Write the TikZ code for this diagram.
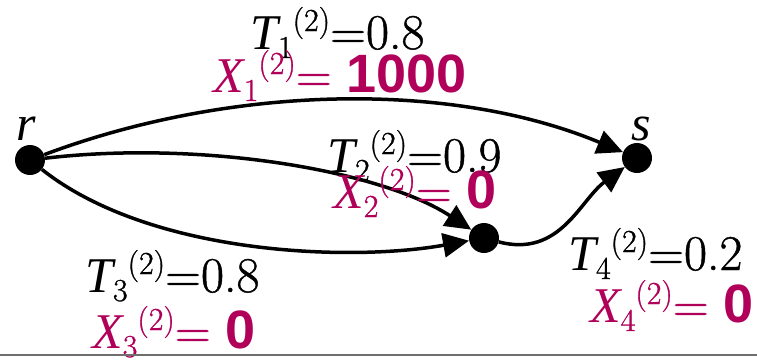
\documentclass[tikz,border=0pt]{standalone}
\usepackage{fontspec}
\setsansfont{Liberation Sans}
\newfontfamily\tmsit[UprightFont=*-Italic]{LiberationSerif}
\newfontfamily\up[RawFeature={embolden=0.9}]{Latin Modern Roman}
\usetikzlibrary{arrows.meta}
\definecolor{mag}{RGB}{176,0,90}
\definecolor{rule}{RGB}{110,110,110}
\newcommand\scr[1]{{\fontsize{32}{32}\selectfont\up #1}}
\newcommand\vlab[2]{{\tmsit #1}\raisebox{-9pt}{\scr{#2}}\raisebox{18pt}{\scr{(2)}}}
\newcommand\bnum[1]{{\fontsize{54}{54}\selectfont\sffamily\bfseries #1}}
\begin{document}
\begin{tikzpicture}[x=1pt,y=-1pt,
  vtx/.style={circle,fill=black,inner sep=0pt,minimum size=30pt},
  tlab/.style={anchor=base west,inner sep=0pt,font=\fontsize{50}{50}\selectfont\up},
  xlab/.style={tlab,text=mag},
  vname/.style={anchor=base,inner sep=0pt,font=\fontsize{50}{50}\selectfont\tmsit},
  edge/.style={line width=3.5pt,-{Triangle[length=26pt,width=24pt]}}]
\useasboundingbox (0,0) rectangle (757,362);
\node[vtx] (r) at (30,160) {};
\node[vtx] (s) at (637,158) {};
\node[vtx] (m) at (484,238) {};
\node[vname] (rl) at (26,140) {r};
\node[vname] (sl) at (641,140) {s};
\draw[edge] (r) .. controls (230,85) and (450,80) .. (s);
\draw[edge] (r) .. controls (200,140) and (380,170) .. (m);
\draw[edge] (r) .. controls (150,255) and (350,262) .. (m);
\draw[edge] (m) .. controls (560,258) and (580,200) .. (s);
\node[tlab] (t1) at (250,49) {\vlab{T}{1}=0.8};
\node[xlab] (x1) at (213,92) {\vlab{X}{1}= \bnum{1000}};
\node[tlab] (t2) at (327,172) {\vlab{T}{2}=0.9};
\node[xlab] (x2) at (333,208) {\vlab{X}{2}= \bnum{0}};
\node[tlab] (t3) at (85,292) {\vlab{T}{3}=0.8};
\node[xlab] (x3) at (92,348) {\vlab{X}{3}= \bnum{0}};
\node[tlab] (t4) at (568,270) {\vlab{T}{4}=0.2};
\node[xlab] (x4) at (590,322) {\vlab{X}{4}= \bnum{0}};
\coordinate (bl) at (0,355);
\coordinate (br) at (757,355);
\draw[rule,line width=2pt] (bl) -- (br);
\end{tikzpicture}
\end{document}
